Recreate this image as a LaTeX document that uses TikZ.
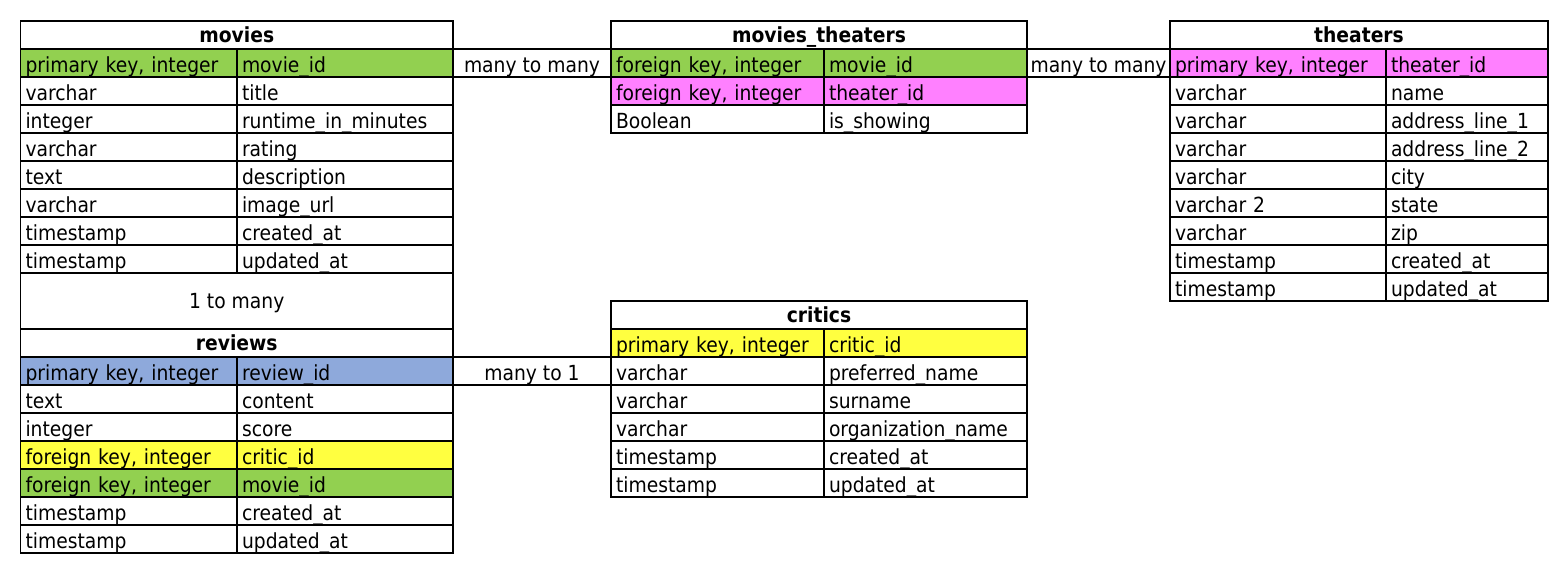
\documentclass[tikz,border=0pt]{standalone}
\usepackage{fontspec}
\setmainfont{DejaVu Sans}[FakeStretch=0.9]
\definecolor{keygreen}{RGB}{146,208,80}
\definecolor{keypink}{RGB}{255,128,255}
\definecolor{keyblue}{RGB}{142,169,219}
\definecolor{keyyellow}{RGB}{255,255,64}
\newcommand\cellfont{\fontsize{10.4pt}{12pt}\selectfont}
% #1 name, #2 x, #3 y, #4 col1 style, #5 col2 style, #6 fill, #7 type, #8 field
\newcommand\pairrow[8]{%
  \node[cell,#4,fill=#6] (#1a) at (#2,#3) {#7};
  \node[cell,#5,fill=#6] (#1b) at (#1a.north east) {#8};
}
\tikzset{
  cell/.style={draw=black, line width=0.85pt, anchor=north west, outer sep=0pt,
    inner xsep=2.5pt, inner ysep=0pt, minimum height=14pt,
    text height=11.75pt, text depth=2.25pt, align=left, font=\cellfont},
  head/.style={cell, align=center, inner xsep=0pt, text height=10.5pt, text depth=3.5pt,
    font=\cellfont\bfseries, fill=white},
  link/.style={cell, align=center, inner xsep=0pt, fill=white},
  mA/.style={text width=103.25pt},
  mB/.style={text width=103pt},
  tA/.style={text width=101.5pt},
  tB/.style={text width=96.5pt},
  hA/.style={text width=103pt},
  hB/.style={text width=76pt},
}
\begin{document}
\begin{tikzpicture}[x=0.5pt,y=-0.5pt]
\useasboundingbox (0,0) rectangle (1568,580);
% ---------- movies ----------
\node[head, minimum width=216.25pt] (movies) at (20.5,21) {movies};
\pairrow{mv1}{20.5}{49}{mA}{mB}{keygreen}{primary key, integer}{movie\_id}
\pairrow{mv2}{20.5}{77}{mA}{mB}{white}{varchar}{title}
\pairrow{mv3}{20.5}{105}{mA}{mB}{white}{integer}{runtime\_in\_minutes}
\pairrow{mv4}{20.5}{133}{mA}{mB}{white}{varchar}{rating}
\pairrow{mv5}{20.5}{161}{mA}{mB}{white}{text}{description}
\pairrow{mv6}{20.5}{189}{mA}{mB}{white}{varchar}{image\_url}
\pairrow{mv7}{20.5}{217}{mA}{mB}{white}{timestamp}{created\_at}
\pairrow{mv8}{20.5}{245}{mA}{mB}{white}{timestamp}{updated\_at}
% ---------- 1 to many ----------
\node[link, minimum width=216.25pt, minimum height=28pt, text height=17.9pt, text depth=10.1pt] (rel1) at (20.5,273) {1 to many};
% ---------- reviews ----------
\node[head, minimum width=216.25pt] (reviews) at (20.5,329) {reviews};
\pairrow{rv1}{20.5}{357}{mA}{mB}{keyblue}{primary key, integer}{review\_id}
\pairrow{rv2}{20.5}{385}{mA}{mB}{white}{text}{content}
\pairrow{rv3}{20.5}{413}{mA}{mB}{white}{integer}{score}
\pairrow{rv4}{20.5}{441}{mA}{mB}{keyyellow}{foreign key, integer}{critic\_id}
\pairrow{rv5}{20.5}{469}{mA}{mB}{keygreen}{foreign key, integer}{movie\_id}
\pairrow{rv6}{20.5}{497}{mA}{mB}{white}{timestamp}{created\_at}
\pairrow{rv7}{20.5}{525}{mA}{mB}{white}{timestamp}{updated\_at}
% ---------- relation cells ----------
\node[link, minimum width=79pt] (rel2) at (453,49) {many to many};
\node[link, minimum width=71.5pt] (rel3) at (1027,49) {many to many};
\node[link, minimum width=79pt] (rel4) at (453,357) {many to 1};
% ---------- movies_theaters ----------
\node[head, minimum width=208pt] (mt) at (611,21) {movies\_theaters};
\pairrow{mt1}{611}{49}{tA}{tB}{keygreen}{foreign key, integer}{movie\_id}
\pairrow{mt2}{611}{77}{tA}{tB}{keypink}{foreign key, integer}{theater\_id}
\pairrow{mt3}{611}{105}{tA}{tB}{white}{Boolean}{is\_showing}
% ---------- critics ----------
\node[head, minimum width=208pt] (critics) at (611,301) {critics};
\pairrow{cr1}{611}{329}{tA}{tB}{keyyellow}{primary key, integer}{critic\_id}
\pairrow{cr2}{611}{357}{tA}{tB}{white}{varchar}{preferred\_name}
\pairrow{cr3}{611}{385}{tA}{tB}{white}{varchar}{surname}
\pairrow{cr4}{611}{413}{tA}{tB}{white}{varchar}{organization\_name}
\pairrow{cr5}{611}{441}{tA}{tB}{white}{timestamp}{created\_at}
\pairrow{cr6}{611}{469}{tA}{tB}{white}{timestamp}{updated\_at}
% ---------- theaters ----------
\node[head, minimum width=189pt] (theaters) at (1170,21) {theaters};
\pairrow{th1}{1170}{49}{hA}{hB}{keypink}{primary key, integer}{theater\_id}
\pairrow{th2}{1170}{77}{hA}{hB}{white}{varchar}{name}
\pairrow{th3}{1170}{105}{hA}{hB}{white}{varchar}{address\_line\_1}
\pairrow{th4}{1170}{133}{hA}{hB}{white}{varchar}{address\_line\_2}
\pairrow{th5}{1170}{161}{hA}{hB}{white}{varchar}{city}
\pairrow{th6}{1170}{189}{hA}{hB}{white}{varchar 2}{state}
\pairrow{th7}{1170}{217}{hA}{hB}{white}{varchar}{zip}
\pairrow{th8}{1170}{245}{hA}{hB}{white}{timestamp}{created\_at}
\pairrow{th9}{1170}{273}{hA}{hB}{white}{timestamp}{updated\_at}
\end{tikzpicture}
\end{document}
